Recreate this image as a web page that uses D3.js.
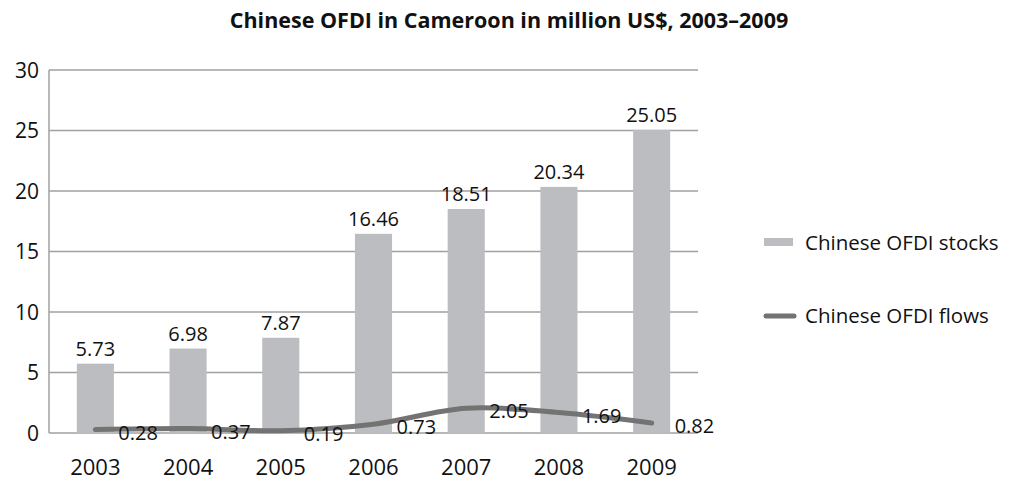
<!DOCTYPE html>
<html>
<head>
<meta charset="utf-8">
<script src="https://cdn.jsdelivr.net/npm/d3@7"></script>
<style>
  body { margin: 0; background: #fff; }
  text { font-family: "Open Sans", sans-serif; fill: #111; }
</style>
</head>
<body>
<svg id="chart"></svg>
<script>
// chart data
const years = ["2003", "2004", "2005", "2006", "2007", "2008", "2009"];
const stocks = [5.73, 6.98, 7.87, 16.46, 18.51, 20.34, 25.05];
const flows = [0.28, 0.37, 0.19, 0.73, 2.05, 1.69, 0.82];
const yTicks = [0, 5, 10, 15, 20, 25, 30];

const width = 1011;
const height = 484;
const margin = { top: 70, right: 313, bottom: 51, left: 49 };

const svg = d3.select("#chart")
    .attr("width", width)
    .attr("height", height);

const x = d3.scaleBand()
    .domain(years)
    .range([margin.left, width - margin.right])
    .paddingInner(0.6)
    .paddingOuter(0.3);

const xc = d => x(d) + x.bandwidth() / 2;

const y = d3.scaleLinear()
    .domain([0, 30])
    .range([height - margin.bottom, margin.top]);

// gridlines
svg.append("g")
    .selectAll("line")
    .data(yTicks)
    .join("line")
    .attr("x1", margin.left)
    .attr("x2", width - margin.right)
    .attr("y1", d => y(d))
    .attr("y2", d => y(d))
    .attr("stroke", "#a0a0a0")
    .attr("stroke-width", 1.5);

// left axis line
svg.append("line")
    .attr("x1", margin.left).attr("x2", margin.left)
    .attr("y1", y(30)).attr("y2", y(0))
    .attr("stroke", "#a0a0a0")
    .attr("stroke-width", 1.5);

// y tick labels
svg.append("g")
    .selectAll("text")
    .data(yTicks)
    .join("text")
    .attr("x", margin.left - 10)
    .attr("y", d => y(d))
    .attr("dy", "0.36em")
    .attr("text-anchor", "end")
    .style("font-size", "21px")
    .text(d => d);

// bars
svg.append("g")
    .selectAll("rect")
    .data(stocks)
    .join("rect")
    .attr("x", (d, i) => x(years[i]))
    .attr("y", d => y(d))
    .attr("width", x.bandwidth())
    .attr("height", d => y(0) - y(d))
    .attr("fill", "#bcbdc0");

// bar labels
svg.append("g")
    .selectAll("text")
    .data(stocks)
    .join("text")
    .attr("x", (d, i) => xc(years[i]))
    .attr("y", d => y(d) - 8)
    .attr("text-anchor", "middle")
    .style("font-size", "20px")
    .text(d => d.toFixed(2));

// flows line
const line = d3.line()
    .x((d, i) => xc(years[i]))
    .y(d => y(d))
    .curve(d3.curveCatmullRom.alpha(0.5));

svg.append("path")
    .datum(flows)
    .attr("d", line)
    .attr("fill", "none")
    .attr("stroke", "#737373")
    .attr("stroke-width", 5)
    .attr("stroke-linecap", "round");

// flow labels
svg.append("g")
    .selectAll("text")
    .data(flows)
    .join("text")
    .attr("x", (d, i) => xc(years[i]) + 23)
    .attr("y", d => y(d) + 10)
    .style("font-size", "20px")
    .text(d => d.toFixed(2));

// x labels
svg.append("g")
    .selectAll("text")
    .data(years)
    .join("text")
    .attr("x", d => xc(d))
    .attr("y", 475)
    .attr("text-anchor", "middle")
    .style("font-size", "22px")
    .text(d => d);

// title
svg.append("text")
    .attr("x", 509)
    .attr("y", 28)
    .attr("text-anchor", "middle")
    .style("font-size", "21.5px")
    .style("font-weight", "bold")
    .text("Chinese OFDI in Cameroon in million US$, 2003–2009");

// legend
const legend = svg.append("g");
legend.append("rect")
    .attr("x", 764).attr("y", 238)
    .attr("width", 29).attr("height", 8)
    .attr("fill", "#bcbdc0");
legend.append("text")
    .attr("x", 805).attr("y", 250)
    .style("font-size", "20.5px")
    .text("Chinese OFDI stocks");
legend.append("line")
    .attr("x1", 766).attr("x2", 794)
    .attr("y1", 316).attr("y2", 316)
    .attr("stroke", "#737373")
    .attr("stroke-width", 5)
    .attr("stroke-linecap", "round");
legend.append("text")
    .attr("x", 805).attr("y", 323)
    .style("font-size", "20.5px")
    .text("Chinese OFDI flows");
</script>
</body>
</html>
